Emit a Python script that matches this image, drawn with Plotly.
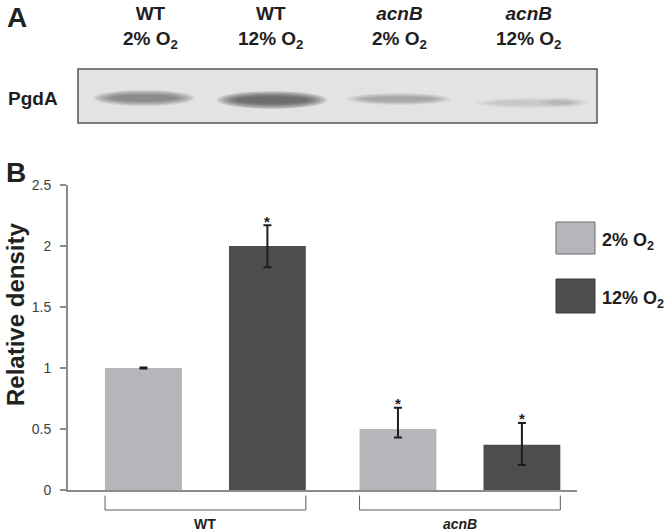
import plotly.graph_objects as go

# ---------------- data ----------------
groups = ["WT", "acnB"]
group_labels = ["<b>WT</b>", "<b><i>acnB</i></b>"]
series_names = ["2% O<sub>2</sub>", "12% O<sub>2</sub>"]
vals_2 = [1.00, 0.50]
vals_12 = [2.00, 0.37]
err_plus_2 = [0.005, 0.175]
err_minus_2 = [0.005, 0.07]
err_plus_12 = [0.17, 0.18]
err_minus_12 = [0.175, 0.165]
signif_2 = [False, True]
signif_12 = [True, True]
y_ticks = [0, 0.5, 1, 1.5, 2, 2.5]
y_tick_text = ["0", "0.5", "1", "1.5", "2", "2.5"]

lane_labels = [
    "<b>WT</b><br><b>2% O<sub>2</sub></b>",
    "<b>WT</b><br><b>12% O<sub>2</sub></b>",
    "<b><i>acnB</i></b><br><b>2% O<sub>2</sub></b>",
    "<b><i>acnB</i></b><br><b>12% O<sub>2</sub></b>",
]
band_density = [0.52, 0.69, 0.32, 0.14]   # darkness of PgdA bands
blot_label = "<b>PgdA</b>"

# ---------------- style / layout ----------------
W, H = 666, 531
L, R, T, B = 68, 577, 185, 490          # plot area in pixels
LIGHT = "#b5b6ba"
DARK = "#4d4d4f"
AXIS = "#8c8c8c"
FONT = "Liberation Sans, Arial, sans-serif"
BARGAP = 0.026
GROUPGAP = 0.38
slot = (1 - BARGAP) / 2
bw = slot * (1 - GROUPGAP)


def PX(x):
    return (x - L) / (R - L)


def PY(y):
    return (B - y) / (B - T)


fig = go.Figure()
err_style = dict(type="data", symmetric=False, color="#1e1e1e", thickness=2, width=4)
fig.add_trace(go.Bar(x=groups, y=vals_2, name=series_names[0], marker=dict(color=LIGHT, line=dict(width=0)),
                     error_y=dict(array=err_plus_2, arrayminus=err_minus_2, **err_style)))
fig.add_trace(go.Bar(x=groups, y=vals_12, name=series_names[1], marker=dict(color=DARK, line=dict(width=0)),
                     error_y=dict(array=err_plus_12, arrayminus=err_minus_12, **err_style)))

shapes = []
annotations = []


def note(x, y, text, size, color="#1e1e1e", xanchor="center", yanchor="middle", **kw):
    annotations.append(dict(x=x, y=y, xref=kw.pop("xref", "paper"), yref=kw.pop("yref", "paper"), text=text,
                            showarrow=False, xanchor=xanchor, yanchor=yanchor,
                            font=dict(family=FONT, size=size, color=color), **kw))


# significance asterisks
for si, (vals, eplus, sig) in enumerate([(vals_2, err_plus_2, signif_2), (vals_12, err_plus_12, signif_12)]):
    off = (-0.5 if si == 0 else 0.5) * slot
    for ci in range(len(groups)):
        if sig[ci]:
            note(ci + off, vals[ci] + eplus[ci], "<b>*</b>", 15, xref="x", yref="y", yshift=4)

# group brackets under the axis
for ci, lab in enumerate(group_labels):
    x0 = ci - slot / 2 - bw / 2
    x1 = ci + slot / 2 + bw / 2
    ya, yb = PY(495.5), PY(510)
    for (a0, b0, a1, b1) in [(x0, ya, x0, yb), (x0, yb, x1, yb), (x1, yb, x1, ya)]:
        shapes.append(dict(type="line", xref="x", yref="paper", x0=a0, y0=b0, x1=a1, y1=b1,
                           line=dict(color="#5a5a5a", width=1)))
    note(ci, PY(523.5), lab, 14, xref="x")

# legend boxes
for (y0, y1, col, lc, name) in [(222, 254, LIGHT, "#6e6e6e", series_names[0]),
                                (279, 313, DARK, "#3c3c3c", series_names[1])]:
    shapes.append(dict(type="rect", xref="paper", yref="paper", x0=PX(556), x1=PX(595), y0=PY(y1), y1=PY(y0),
                       fillcolor=col, line=dict(color=lc, width=1)))
    note(PX(600), PY((y0 + y1) / 2 + 3), "<b>" + name + "</b>", 18, xanchor="left")

# y-axis title and panel letters
note(PX(15), PY(315), "<b>Relative density</b>", 24, color="#222222", textangle=-90)
note(PX(16.5), PY(18), "<b>A</b>", 28, color="#222222")
note(PX(15.5), PY(172), "<b>B</b>", 28, color="#222222")

# ---------------- panel A: blot ----------------
BX0, BX1, BY0, BY1 = 78, 597, 69, 123
shapes.append(dict(type="rect", xref="paper", yref="paper", x0=PX(BX0), x1=PX(BX1), y0=PY(BY1), y1=PY(BY0),
                   fillcolor="#e2e3e5", line=dict(width=0)))
band_geom = [(144, 98, 102, 16), (272, 100, 110, 18), (399, 99, 105, 12), (532, 103, 115, 11)]
NL = 7
for (cx, cy, w, h), dens in zip(band_geom, band_density):
    a = 1 - (1 - dens) ** (1 / NL)
    for k in range(NL):
        t = k / (NL - 1)
        ww = w * (1 - 0.35 * t)
        hh = h * (1 - 0.6 * t)
        shapes.append(dict(type="circle", xref="paper", yref="paper", x0=PX(cx - ww / 2), x1=PX(cx + ww / 2),
                           y0=PY(cy + hh / 2), y1=PY(cy - hh / 2), fillcolor="#3a3a3e", opacity=a,
                           line=dict(width=0)))
# slightly darker right end of the faint 4th band
cx, cy, w, h = 562, 102, 44, 9
for k in range(4):
    ww = w * (1 - 0.2 * k)
    hh = h * (1 - 0.15 * k)
    shapes.append(dict(type="circle", xref="paper", yref="paper", x0=PX(cx - ww / 2), x1=PX(cx + ww / 2),
                       y0=PY(cy + hh / 2), y1=PY(cy - hh / 2), fillcolor="#3a3a3e", opacity=0.03,
                       line=dict(width=0)))
shapes.append(dict(type="rect", xref="paper", yref="paper", x0=PX(BX0), x1=PX(BX1), y0=PY(BY1), y1=PY(BY0),
                   fillcolor="rgba(0,0,0,0)", line=dict(color="#555555", width=1.5)))

lane_x = [150, 271, 399, 529]
for lx, lab in zip(lane_x, lane_labels):
    note(PX(lx), PY(27), lab, 19, align="center")
note(PX(6), PY(98), blot_label, 19, xanchor="left")

fig.update_layout(
    width=W, height=H, autosize=False,
    margin=dict(l=L, r=W - R, t=T, b=H - B, pad=0),
    paper_bgcolor="white", plot_bgcolor="white",
    barmode="group", bargap=BARGAP, bargroupgap=GROUPGAP,
    showlegend=False,
    shapes=shapes, annotations=annotations,
    xaxis=dict(type="category", range=[-0.54, 1.46], showline=True, linecolor=AXIS, linewidth=2,
               showticklabels=False, ticks="", showgrid=False, zeroline=False, fixedrange=True),
    yaxis=dict(range=[0, 2.5], tickvals=y_ticks, ticktext=y_tick_text, ticks="outside", ticklen=6,
               tickwidth=2, tickcolor=AXIS, showline=True, linecolor=AXIS, linewidth=2, showgrid=False,
               zeroline=False, ticklabelstandoff=6,
               tickfont=dict(family=FONT, size=14, color="#404040")),
)

fig.write_html("out.html", config={"displayModeBar": False},
               post_script="document.body.style.margin='0px';document.body.style.overflow='hidden';")
